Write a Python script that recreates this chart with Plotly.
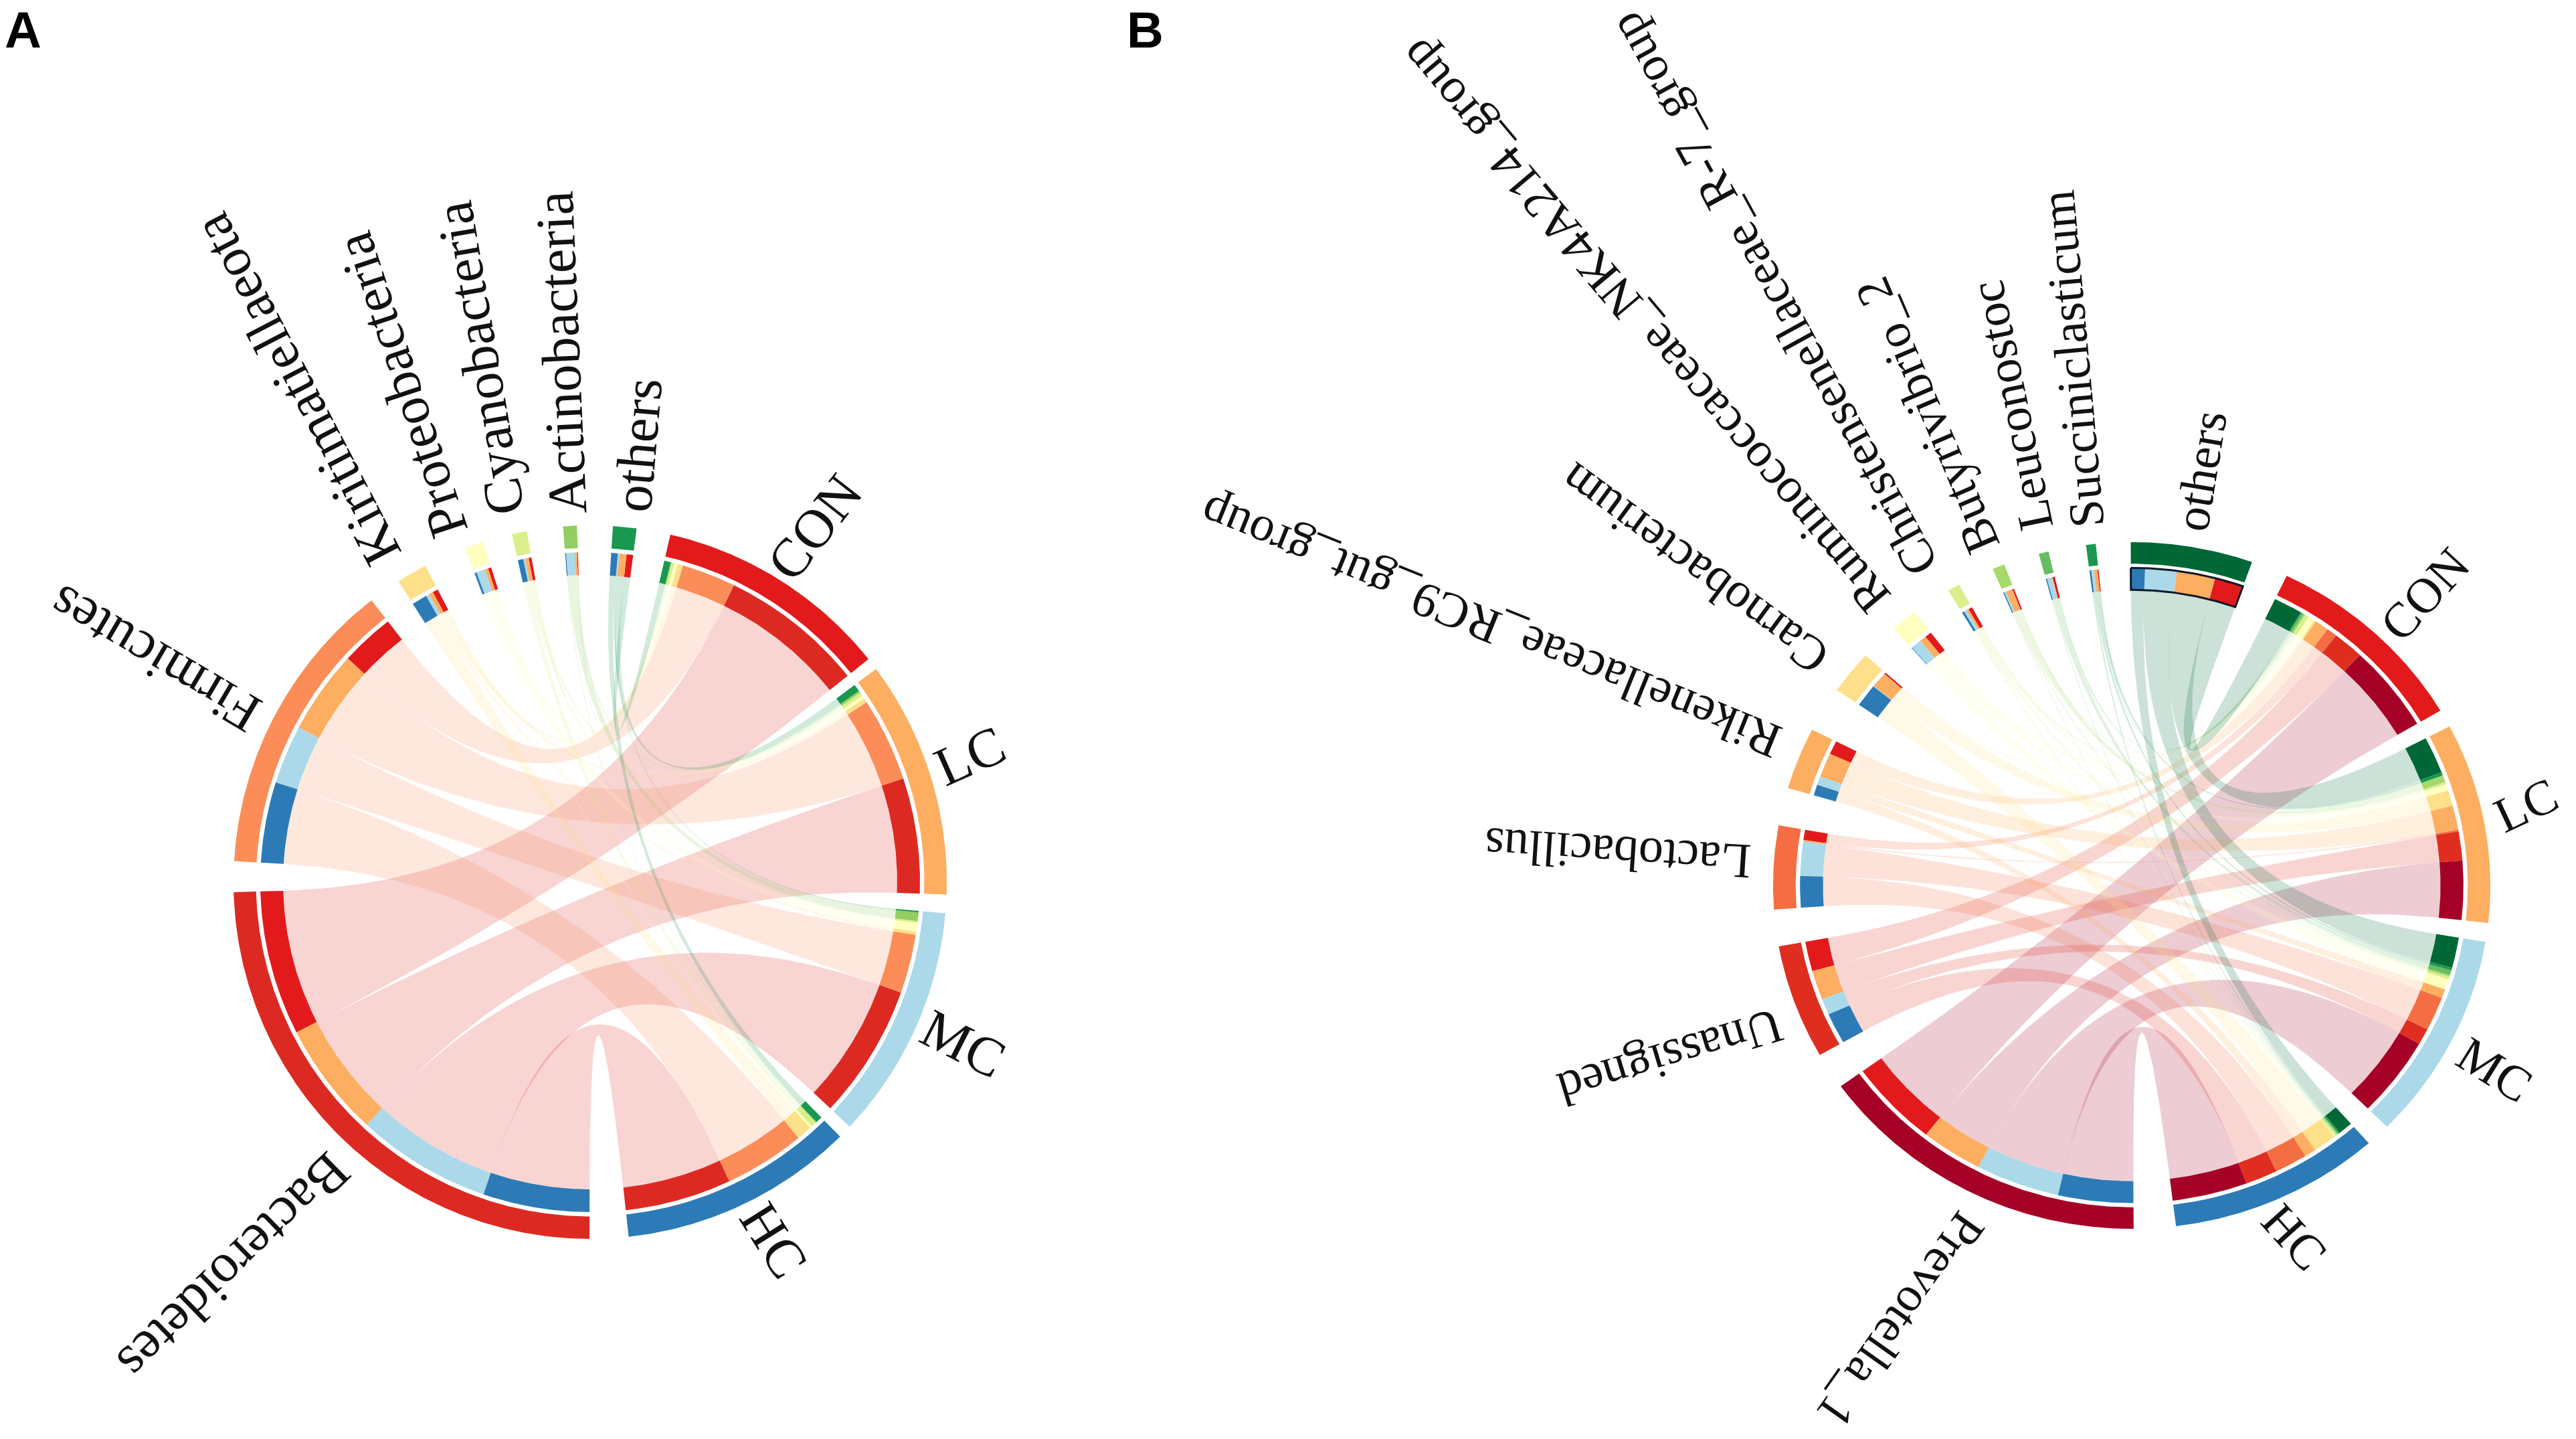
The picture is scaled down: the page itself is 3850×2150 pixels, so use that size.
import numpy as np
import plotly.graph_objects as go

GROUPS = ["CON", "LC", "MC", "HC"]
GROUP_COLORS = ["#E31A1C", "#FDAE61", "#ABD9E9", "#2C7BB6"]

# Panel A: taxon rows, values for CON, LC, MC, HC
A_TAXA = ["Bacteroidetes", "Firmicutes", "Kiritimatiellaeota", "Proteobacteria",
          "Cyanobacteria", "Actinobacteria", "others"]
A_BACTEROIDETES = [66.5, 53.0, 62.0, 49.0]
A_FIRMICUTES = [24.8, 38.5, 27.0, 37.1]
A_KIRITIMATIELLAEOTA = [2.5, 2.0, 1.5, 7.0]
A_PROTEOBACTERIA = [1.5, 1.5, 4.0, 1.0]
A_CYANOBACTERIA = [1.3, 1.7, 0.8, 2.5]
A_ACTINOBACTERIA = [0.4, 1.0, 4.0, 0.4]
A_OTHERS = [3.0, 3.3, 0.7, 3.0]
A_COLORS = ["#DC2A22", "#FC8D59", "#FEE08B", "#FFFFBF", "#D9EF8B", "#91CF60", "#1A9850"]

# Panel B: taxon rows, values for CON, LC, MC, HC
B_TAXA = ["Prevotella_1", "Unassigned", "Lactobacillus", "Rikenellaceae_RC9_gut_group",
          "Carnobacterium", "Ruminococcaceae_NK4A214_group", "Christensenellaceae_R-7_group",
          "Butyrivibrio_2", "Leuconostoc", "Succiniclasticum", "others"]
B_PREVOTELLA = [16.1, 10.9, 14.9, 13.3]
B_UNASSIGNED = [5.5, 5.4, 3.0, 5.7]
B_LACTOBACILLUS = [1.9, 0.3, 6.3, 5.8]
B_RIKENELLACEAE = [2.5, 4.5, 1.6, 2.0]
B_CARNOBACTERIUM = [0.3, 2.9, 0.1, 4.2]
B_RUMINOCOCCACEAE = [1.2, 1.2, 1.9, 0.1]
B_CHRISTENSENELLACEAE = [0.7, 0.4, 0.5, 0.4]
B_BUTYRIVIBRIO = [0.3, 1.2, 0.3, 0.2]
B_LEUCONOSTOC = [0.4, 0.1, 0.9, 0.2]
B_SUCCINICLASTICUM = [0.2, 0.6, 0.5, 0.3]
B_OTHERS = [5.1, 6.8, 5.6, 2.5]
B_COLORS = ["#A50026", "#DF2E20", "#F46D43", "#FDAE61", "#FEE08B", "#FFFFBF",
            "#D9EF8B", "#A6D96A", "#66BD63", "#1A9850", "#006837"]

# Layout of each panel: centre, radii, first angle, gaps between neighbouring sectors (degrees)
PANEL_A = dict(cx=882, cy=1318, rx=533, ry=533, start=13.0,
               gaps=[2.0, 3.0, 2.2, 6.3, 5.0, 5.3, 7.0, 4.8, 5.9, 5.8, 5.5])
PANEL_B = dict(cx=3186, cy=1323, rx=536, ry=513, start=25.6,
               gaps=[3.0, 3.2, 4.0, 6.8, 6.2, 6.2, 6.4, 7.7, 6.3, 6.5, 6.0, 5.8, 6.1, 5.6, 6.0])
R_OUT = (0.937, 1.0)
R_IN = (0.861, 0.925)
RIBBON_ALPHA = 0.2

LABELS_A = [("CON", 1217, 788, -52), ("LC", 1449, 1129, -24), ("MC", 1440, 1559, 27),
            ("HC", 1157, 1853, 58), ("Bacteroidetes", 350, 1893, 135.7),
            ("Firmicutes", 231, 985, -149.5), ("Kiritimatiellaeota", 443, 582, -117.5),
            ("Proteobacteria", 599, 575, -108.3), ("Cyanobacteria", 716, 535, -99.8),
            ("Actinobacteria", 838, 527, -92.5), ("others", 953, 665, -85)]
LABELS_B = [("CON", 3624, 888, -47.5), ("LC", 3775, 1203, -25), ("MC", 3728, 1598, 32),
            ("HC", 3429, 1848, 48), ("Prevotella_1", 2841, 1972, 125.3),
            ("Unassigned", 2497, 1580, 163.2), ("Lactobacillus", 2418, 1275, -176.3),
            ("Rikenellaceae_RC9_gut_group", 2228, 937, -157.9),
            ("Carnobacterium", 2532, 850, -143.6),
            ("Ruminococcaceae_NK4A214_group", 2458, 488, -130.1),
            ("Christensenellaceae_R-7_group", 2650, 440, -118.7),
            ("Butyrivibrio_2", 2880, 621, -113.2), ("Leuconostoc", 3006, 606, -101.7),
            ("Succiniclasticum", 3097, 536, -95.2), ("others", 3289, 704, -80.6)]

fig = go.Figure()


def rgba(hex_color, alpha):
    r, g, b = (int(hex_color[i:i + 2], 16) for i in (1, 3, 5))
    return f"rgba({r},{g},{b},{alpha})"


def draw_chord(panel, matrix, taxon_colors, outline_last=False):
    m = np.array(matrix, dtype=float)
    cx, cy, rx, ry = panel["cx"], panel["cy"], panel["rx"], panel["ry"]

    def xy(theta, k):
        t = np.radians(theta)
        return cx + rx * k * np.sin(t), cy - ry * k * np.cos(t)

    def arc(a, b, k):
        n = max(2, int(abs(b - a) * 2) + 2)
        return xy(np.linspace(a, b, n), k)

    def poly(a, b, ka, kb, color, line=None):
        x1, y1 = arc(a, b, kb)
        x2, y2 = arc(b, a, ka)
        fig.add_trace(go.Scatter(
            x=np.r_[x1, x2, x1[0]], y=np.r_[y1, y2, y1[0]], mode="lines",
            fill="toself", fillcolor=color, hoverinfo="skip", showlegend=False,
            line=dict(width=line[1] if line else 0, color=line[0] if line else color)))

    def bezier(a, b, k):
        p0 = np.array(xy(a, k))
        p2 = np.array(xy(b, k))
        c = np.array([cx, cy])
        s = np.linspace(0, 1, 60)[None, :]
        return (1 - s) ** 2 * p0[:, None] + 2 * s * (1 - s) * c[:, None] + s ** 2 * p2[:, None]

    n_t, n_g = m.shape
    scale = (360 - sum(panel["gaps"])) / m.sum() / 2
    pos = panel["start"]
    g_start, t_start = [], []
    gaps = list(panel["gaps"]) + [0]
    for j in range(n_g):
        g_start.append(pos)
        pos += m[:, j].sum() * scale + gaps[j]
    for i in range(n_t):
        t_start.append(pos)
        pos += m[i, :].sum() * scale + gaps[n_g + i]

    # sub-arcs: clockwise a group runs from the last taxon to the first,
    # a taxon runs from the last group to the first
    g_arc, t_arc = {}, {}
    for j in range(n_g):
        p = g_start[j]
        for i in range(n_t - 1, -1, -1):
            w = m[i, j] * scale
            g_arc[i, j] = (p, p + w)
            p += w
    for i in range(n_t):
        p = t_start[i]
        for j in range(n_g - 1, -1, -1):
            w = m[i, j] * scale
            t_arc[i, j] = (p, p + w)
            p += w

    k = R_IN[0]
    for i in range(n_t):
        for j in range(n_g):
            a1, a2 = t_arc[i, j]
            b1, b2 = g_arc[i, j]
            xa, ya = arc(a1, a2, k)
            xb, yb = arc(b1, b2, k)
            c1 = bezier(a2, b1, k)
            c2 = bezier(b2, a1, k)
            fig.add_trace(go.Scatter(
                x=np.r_[xa, c1[0], xb, c2[0]], y=np.r_[ya, c1[1], yb, c2[1]],
                mode="lines", fill="toself", fillcolor=rgba(taxon_colors[i], RIBBON_ALPHA),
                line=dict(width=0), hoverinfo="skip", showlegend=False))

    for j in range(n_g):
        end = g_start[j] + m[:, j].sum() * scale
        poly(g_start[j], end, *R_OUT, GROUP_COLORS[j])
        for i in range(n_t):
            poly(*g_arc[i, j], *R_IN, taxon_colors[i])
    for i in range(n_t):
        end = t_start[i] + m[i, :].sum() * scale
        poly(t_start[i], end, *R_OUT, taxon_colors[i])
        for j in range(n_g):
            poly(*t_arc[i, j], *R_IN, GROUP_COLORS[j])
    if outline_last:
        i = n_t - 1
        end = t_start[i] + m[i, :].sum() * scale
        x1, y1 = arc(t_start[i], end, R_IN[1])
        x2, y2 = arc(end, t_start[i], R_IN[0])
        fig.add_trace(go.Scatter(x=np.r_[x1, x2, x1[0]], y=np.r_[y1, y2, y1[0]], mode="lines",
                                 line=dict(color="#101828", width=3), hoverinfo="skip",
                                 showlegend=False))


draw_chord(PANEL_A, [A_BACTEROIDETES, A_FIRMICUTES, A_KIRITIMATIELLAEOTA, A_PROTEOBACTERIA,
                     A_CYANOBACTERIA, A_ACTINOBACTERIA, A_OTHERS], A_COLORS)
draw_chord(PANEL_B, [B_PREVOTELLA, B_UNASSIGNED, B_LACTOBACILLUS, B_RIKENELLACEAE,
                     B_CARNOBACTERIUM, B_RUMINOCOCCACEAE, B_CHRISTENSENELLACEAE,
                     B_BUTYRIVIBRIO, B_LEUCONOSTOC, B_SUCCINICLASTICUM, B_OTHERS],
           B_COLORS, outline_last=True)

annotations = []
for labels, size in ((LABELS_A, 82), (LABELS_B, 74)):
    for text, x, y, angle in labels:
        annotations.append(dict(x=x, y=y, xref="x", yref="y", text=text, textangle=angle,
                                showarrow=False, xanchor="center", yanchor="middle",
                                font=dict(family="Liberation Serif", size=size, color="#111111")))
for text, x, y in (("A", 34, 44), ("B", 1711, 44)):
    annotations.append(dict(x=x, y=y, xref="x", yref="y", text=f"<b>{text}</b>", showarrow=False,
                            xanchor="center", yanchor="middle",
                            font=dict(family="Liberation Sans", size=76, color="#000000")))

fig.update_layout(
    width=3850, height=2150, margin=dict(l=0, r=0, t=0, b=0),
    paper_bgcolor="white", plot_bgcolor="white", showlegend=False,
    xaxis=dict(range=[0, 3850], visible=False, fixedrange=True),
    yaxis=dict(range=[2150, 0], visible=False, fixedrange=True),
    annotations=annotations,
)
fig.write_html("out.html", config={"displayModeBar": False},
               post_script="document.body.style.margin='0';document.body.style.overflow='hidden';")
